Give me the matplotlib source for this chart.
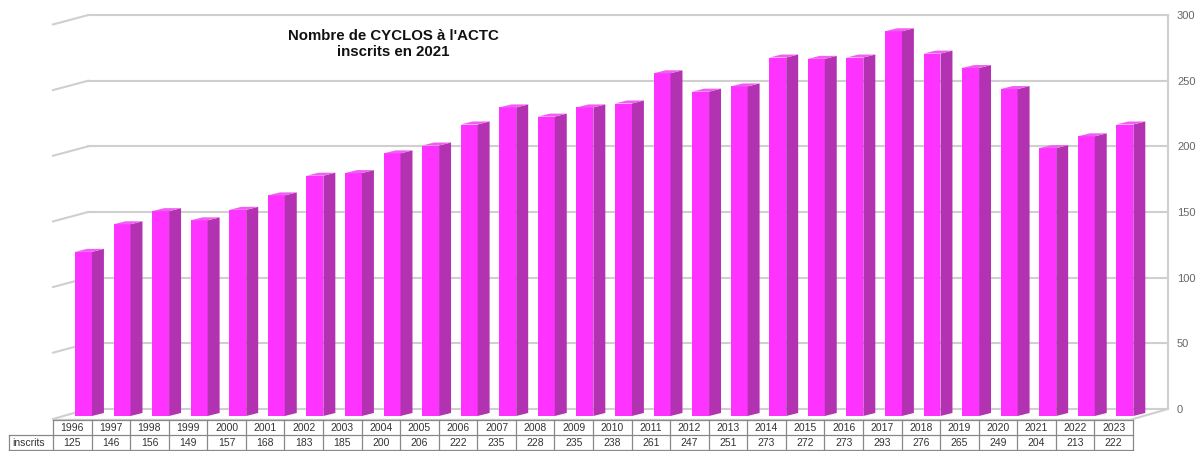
import numpy as np
import matplotlib.pyplot as plt
from matplotlib.patches import Polygon

plt.rcParams['font.family'] = ['Liberation Sans', 'DejaVu Sans']

# data
years = ["1996", "1997", "1998", "1999", "2000", "2001", "2002", "2003", "2004",
         "2005", "2006", "2007", "2008", "2009", "2010", "2011", "2012", "2013",
         "2014", "2015", "2016", "2017", "2018", "2019", "2020", "2021", "2022", "2023"]
inscrits = [125, 146, 156, 149, 157, 168, 183, 185, 200, 206, 222, 235, 228, 235,
            238, 261, 247, 251, 273, 272, 273, 293, 276, 265, 249, 204, 213, 222]
yticks = [0, 50, 100, 150, 200, 250, 300]
row_label = "inscrits"
title = "Nombre de CYCLOS à l'ACTC\ninscrits en 2021"

# pixel layout helpers (front plane: column i spans [i, i+1])
X0, XS = 53.0, 38.57
Y0, YS = 417.0, 1.313
W, H = 1204, 452

def py(p):
    return (Y0 - p) / YS

def px(p):
    return (p - X0) / XS

n = len(years)
wall_dx, wall_dy = px(88), py(410)      # back wall offset
front_dy = py(420)                       # front edge of floor
bar_off, bar_w = 0.57, 0.44
side_dx, side_dy = 0.31, 2.3
grid_c = "#cfcfcf"

fig = plt.figure(figsize=(W / 100, H / 100), dpi=100)
ax = fig.add_axes([0, 0, 1, 1])
ax.set_xlim(px(0), px(W))
ax.set_ylim(py(H), py(0))
ax.axis("off")

# back wall grid + left slants
for t in yticks[1:]:
    ax.plot([wall_dx, n + wall_dx], [t + wall_dy, t + wall_dy], color=grid_c, lw=1.5, zorder=1)
    ax.plot([0, wall_dx], [t + front_dy + 0.5, t + wall_dy], color=grid_c, lw=1.5, zorder=1)
# floor
ax.plot([0, wall_dx, n + wall_dx, n], [front_dy, wall_dy, wall_dy, front_dy],
        color=grid_c, lw=1.5, zorder=1)
ax.plot([0, n], [front_dy, front_dy], color=grid_c, lw=1.0, zorder=1)
# right wall edge
ax.plot([n + wall_dx, n + wall_dx], [wall_dy, yticks[-1] + wall_dy], color=grid_c, lw=1.5, zorder=1)
for t in yticks:
    ax.text(px(1177), t + wall_dy, str(t), fontsize=8, color="#666666", va="center", ha="left")

# bars
xs = np.arange(n) + bar_off
ax.bar(xs, inscrits, width=bar_w, align="edge", color="#ff33ff", zorder=3, lw=0)
for x0, v in zip(xs, inscrits):
    x1 = x0 + bar_w
    ax.add_patch(Polygon([(x1, 0), (x1 + side_dx, side_dy), (x1 + side_dx, v + side_dy), (x1, v)],
                         closed=True, color="#b232b2", lw=0, zorder=3))
    ax.add_patch(Polygon([(x0, v), (x1, v), (x1 + side_dx, v + side_dy), (x0 + side_dx, v + side_dy)],
                         closed=True, color="#f060f0", lw=0, zorder=3))

# title
ax.text(px(393), py(44), title, fontsize=10.8, fontweight="bold", ha="center", va="center",
        linespacing=1.2, color="#111111")

# data table
t_top, t_mid, t_bot = py(421), py(436), py(451)
lab_x = px(9)
tc = "#888888"
ax.plot([0, n], [t_top, t_top], color=tc, lw=0.9)
ax.plot([lab_x, n], [t_mid, t_mid], color=tc, lw=0.9)
ax.plot([lab_x, n], [t_bot, t_bot], color=tc, lw=0.9)
ax.plot([lab_x, lab_x], [t_mid, t_bot], color=tc, lw=0.9)
for i in range(n + 1):
    ax.plot([i, i], [t_top, t_bot], color=tc, lw=0.9)
for i, (yr, v) in enumerate(zip(years, inscrits)):
    ax.text(i + 0.5, (t_top + t_mid) / 2, yr, fontsize=7.5, ha="center", va="center", color="#333333")
    ax.text(i + 0.5, (t_mid + t_bot) / 2, str(v), fontsize=7.5, ha="center", va="center", color="#333333")
ax.text(lab_x + 0.08, (t_mid + t_bot) / 2, row_label, fontsize=7.5, ha="left", va="center", color="#333333")

fig.savefig("out.png", dpi=100)
